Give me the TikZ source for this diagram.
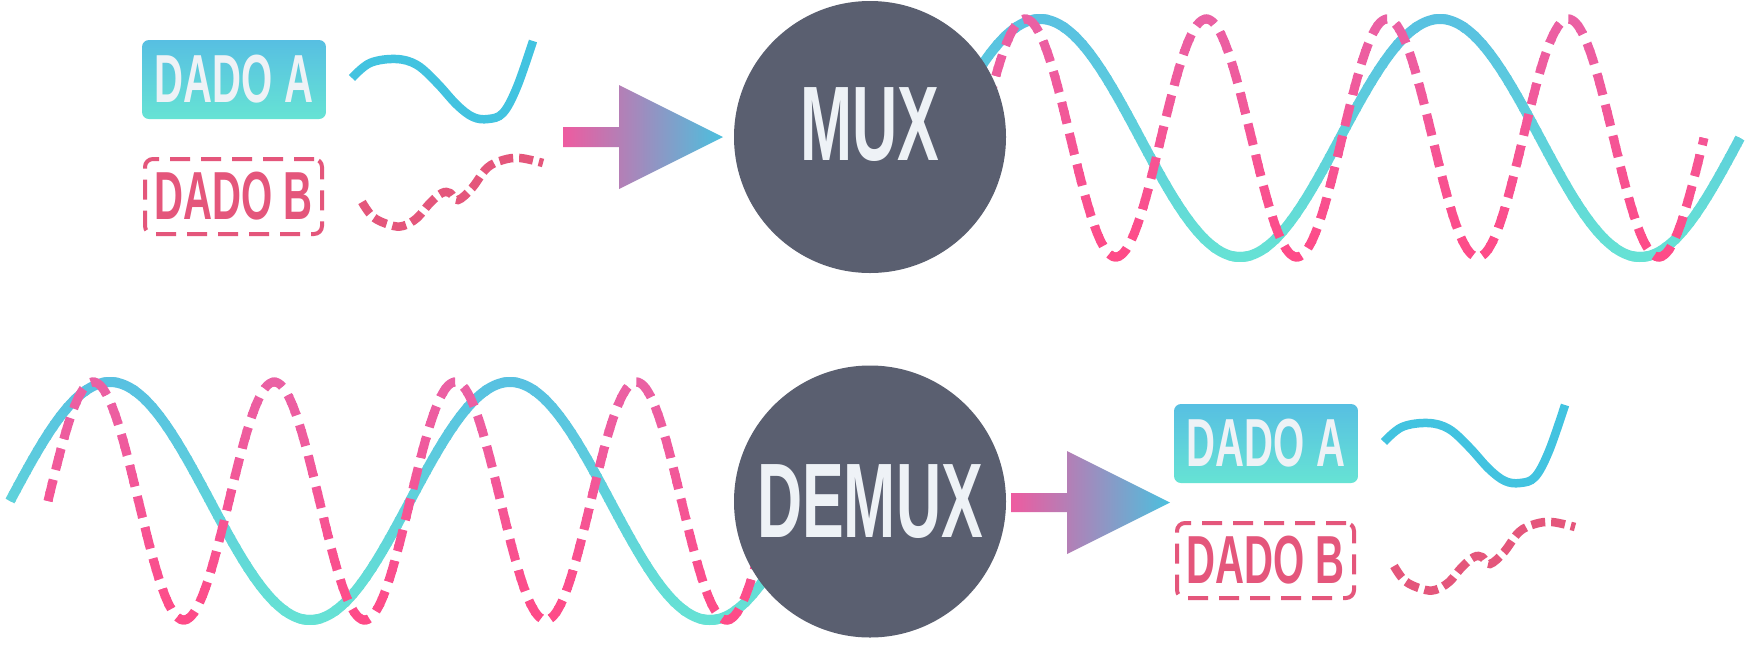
\documentclass[tikz,border=0pt]{standalone}
\usepackage{fontspec}
\newfontfamily\condfont[FakeStretch=0.59]{Liberation Sans}
\definecolor{hubc}{HTML}{5A5F70}
\definecolor{textw}{HTML}{EEF2F6}
\definecolor{aTop}{HTML}{57BFE2}
\definecolor{aBot}{HTML}{66E3D4}
\definecolor{waveA}{HTML}{42C3E0}
\definecolor{pinkB}{HTML}{E4567B}
\definecolor{arrL}{HTML}{EE5BA0}
\definecolor{arrR}{HTML}{4BC0DE}
\definecolor{pTop}{HTML}{E962A6}
\definecolor{pBot}{HTML}{FF4A86}

\tikzset{
  hub/.style={circle, fill=hubc, minimum size=272pt, inner sep=0pt},
  hubtext/.style={text=textw, font=\condfont\bfseries\fontsize{106}{110}\selectfont, inner sep=0pt},
  boxa/.style={rectangle, rounded corners=7pt, top color=aTop, bottom color=aBot,
    minimum width=184pt, minimum height=79pt, inner sep=0pt, text=textw,
    font=\condfont\bfseries\fontsize{68}{72}\selectfont},
  boxb/.style={rectangle, rounded corners=8pt, draw=pinkB, line width=4pt,
    dash pattern=on 20pt off 11pt, minimum width=177pt, minimum height=75pt,
    inner sep=0pt, text=pinkB, font=\condfont\bfseries\fontsize{68}{72}\selectfont},
  wavea/.style={draw=waveA, line width=8.5pt},
  waveb/.style={draw=pinkB, line width=8.5pt, dash pattern=on 14pt off 6pt},
  bluewave/.style={line width=10pt},
  pinkwave/.style={line width=9pt, dash pattern=on 22pt off 10pt},
  gradarrow/.style={left color=arrL, right color=arrR},
}

% draw a path (#5) in vertical colour bands from #3 (at y=#1) to #4 (at y=#2)
\newcommand\wavebands[5]{%
  \foreach \i in {0,...,29}{%
    \pgfmathsetmacro\ya{#1+(#2-#1)*\i/30}%
    \pgfmathsetmacro\yb{#1+(#2-#1)*(\i+1)/30}%
    \pgfmathtruncatemacro\pc{100-100*(\i+0.5)/30}%
    \colorlet{bandc}{#3!\pc!#4}%
    \begin{scope}
      \clip (-10,\ya-0.8) rectangle (1760,\yb);
      #5
    \end{scope}
  }}

\newcommand\smallwaves{%
  \draw[wavea] plot[smooth, tension=0.6] coordinates {(352,78) (370,63) (396,59) (417,65) (437,83) (457,105) (473,117) (488,119) (503,113) (517,87) (533,41)};
  \draw[waveb] plot[smooth, tension=0.6] coordinates {(362,202) (373,217) (390,225) (403,226) (417,218) (430,203) (442,193) (450,193) (458,200) (472,188) (487,168) (503,160) (520,158) (543,163)};
}

\begin{document}
\begin{tikzpicture}[x=1pt,y=-1pt]
\fill[white] (0,0) rectangle (1749,649);
\useasboundingbox (0,0) rectangle (1749,649);

% ---------- top: multiplexed signal ----------
\wavebands{6}{270}{aTop}{aBot}{\draw[bandc, bluewave] plot[domain=940:1740, samples=320] (\x,{138-119*sin(0.9*(\x-940))});}
\wavebands{6}{270}{pTop}{pBot}{\draw[bandc, pinkwave] plot[domain=980:1704, samples=500] (\x,{138-119*sin(1.98895*(\x-980))});}

% ---------- bottom: multiplexed signal ----------
\wavebands{369}{633}{aTop}{aBot}{\draw[bandc, bluewave] plot[domain=10:810, samples=320] (\x,{501-119*sin(0.9*(\x-10))});}
\wavebands{369}{633}{pTop}{pBot}{\draw[bandc, pinkwave] plot[domain=48:772, samples=500] (\x,{501-119*sin(1.98895*(\x-48))});}

% ---------- hubs ----------
\node[hub] (mux) at (870,137) {};
\node[hubtext] (muxlabel) at ([yshift=12pt]mux.center) {MUX};
\node[hub, hubtext] (demux) at (870,501.5) {DEMUX};

% ---------- arrows ----------
\shade[gradarrow] (563,127) -- (619,127) -- (619,85) -- (723,137) -- (619,189) -- (619,147) -- (563,147) -- cycle;
\shade[gradarrow] (1011,493) -- (1067,493) -- (1067,451) -- (1170,502.5) -- (1067,554) -- (1067,512) -- (1011,512) -- cycle;

% ---------- inputs ----------
\node[boxa] (dadoA1) at (234,79.5) {DADO A};
\node[boxb] (dadoB1) at (233.5,196.5) {DADO B};
\smallwaves

% ---------- outputs ----------
\node[boxa] (dadoA2) at (1266,443.5) {DADO A};
\node[boxb] (dadoB2) at (1265.5,560.5) {DADO B};
\begin{scope}[shift={(1032,364)}]
\smallwaves
\end{scope}
\end{tikzpicture}
\end{document}
